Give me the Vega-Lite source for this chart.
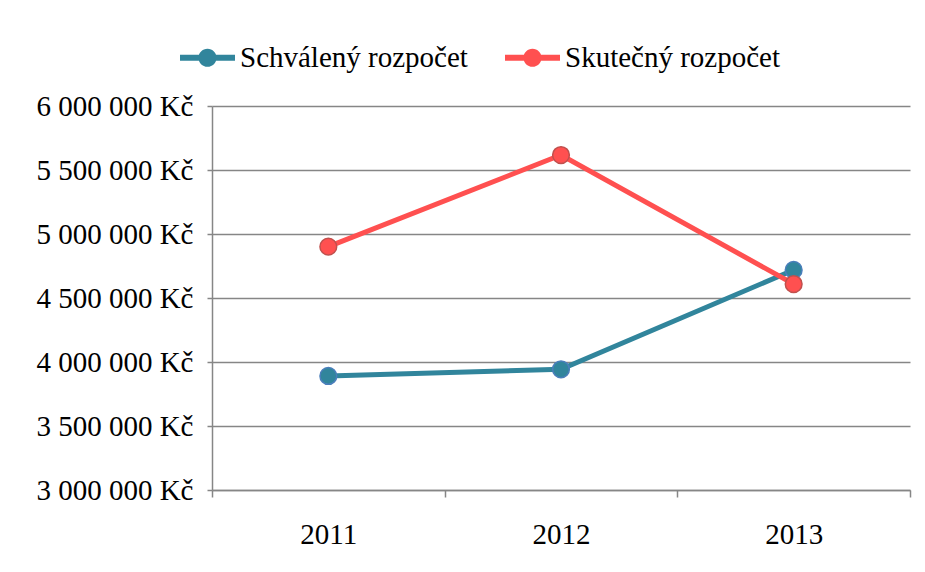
{
  "$schema": "https://vega.github.io/schema/vega-lite/v6.json",
  "width": 698,
  "height": 384,
  "autosize": "none",
  "padding": {"left": 212, "top": 106, "right": 15, "bottom": 82},
  "background": "white",
  "config": {"view": {"stroke": null}, "font": "Liberation Serif"},
  "data": {
    "values": [
      {"year": "2011", "series": "Schválený rozpočet", "value": 3891000},
      {"year": "2012", "series": "Schválený rozpočet", "value": 3943000},
      {"year": "2013", "series": "Schválený rozpočet", "value": 4719000},
      {"year": "2011", "series": "Skutečný rozpočet", "value": 4901000},
      {"year": "2012", "series": "Skutečný rozpočet", "value": 5617000},
      {"year": "2013", "series": "Skutečný rozpočet", "value": 4609000}
    ]
  },
  "encoding": {
    "x": {
      "field": "year",
      "type": "ordinal",
      "scale": {"type": "band", "paddingInner": 0, "paddingOuter": 0},
      "axis": {
        "title": null,
        "labelAngle": 0,
        "labelFont": "Liberation Serif",
        "labelFontSize": 29,
        "labelColor": "#000000",
        "labelPadding": 23,
        "grid": false,
        "tickBand": "extent",
        "domainColor": "#868686",
        "domainWidth": 1.5,
        "tickColor": "#868686",
        "tickWidth": 1.5,
        "tickSize": 7
      }
    },
    "y": {
      "field": "value",
      "type": "quantitative",
      "scale": {"domain": [3000000, 6000000], "nice": false, "zero": false},
      "axis": {
        "title": null,
        "values": [3000000, 3500000, 4000000, 4500000, 5000000, 5500000, 6000000],
        "labelExpr": "replace(format(datum.value, ',d'), /,/g, ' ') + ' Kč'",
        "labelFont": "Liberation Serif",
        "labelFontSize": 29,
        "labelColor": "#000000",
        "labelPadding": 14,
        "grid": true,
        "gridColor": "#868686",
        "gridWidth": 1.5,
        "domainColor": "#868686",
        "domainWidth": 1.5,
        "tickColor": "#868686",
        "tickWidth": 1.5,
        "tickSize": 5
      }
    },
    "color": {
      "field": "series",
      "type": "nominal",
      "scale": {
        "domain": ["Schválený rozpočet", "Skutečný rozpočet"],
        "range": ["#31859C", "#FF5050"]
      },
      "legend": {
        "title": null,
        "orient": "none",
        "direction": "horizontal",
        "legendX": -32,
        "legendY": -76,
        "padding": 0,
        "labelFont": "Liberation Serif",
        "labelFontSize": 29,
        "labelColor": "#000000",
        "labelLimit": 0,
        "labelOffset": 5,
        "columnPadding": 37,
        "symbolType": "M-1,-0.11 L1,-0.11 L1,0.11 L-1,0.11 Z M0.33,0 A0.33,0.33 0 1,1 -0.33,0 A0.33,0.33 0 1,1 0.33,0 Z",
        "symbolSize": 3025,
        "symbolStrokeWidth": 0,
        "symbolOpacity": 1,
        "encode": {
          "symbols": {
            "update": {
              "fill": {"scale": "color", "field": "value"},
              "strokeWidth": {"value": 0},
              "opacity": {"value": 1}
            }
          }
        }
      }
    }
  },
  "layer": [
    {"mark": {"type": "line", "strokeWidth": 5}},
    {
      "mark": {"type": "point", "filled": true, "size": 280, "opacity": 1, "strokeWidth": 1.5},
      "encoding": {
        "stroke": {
          "field": "series",
          "type": "nominal",
          "scale": {
            "domain": ["Schválený rozpočet", "Skutečný rozpočet"],
            "range": ["#4A7EBB", "#C0504D"]
          },
          "legend": null
        }
      }
    }
  ]
}
